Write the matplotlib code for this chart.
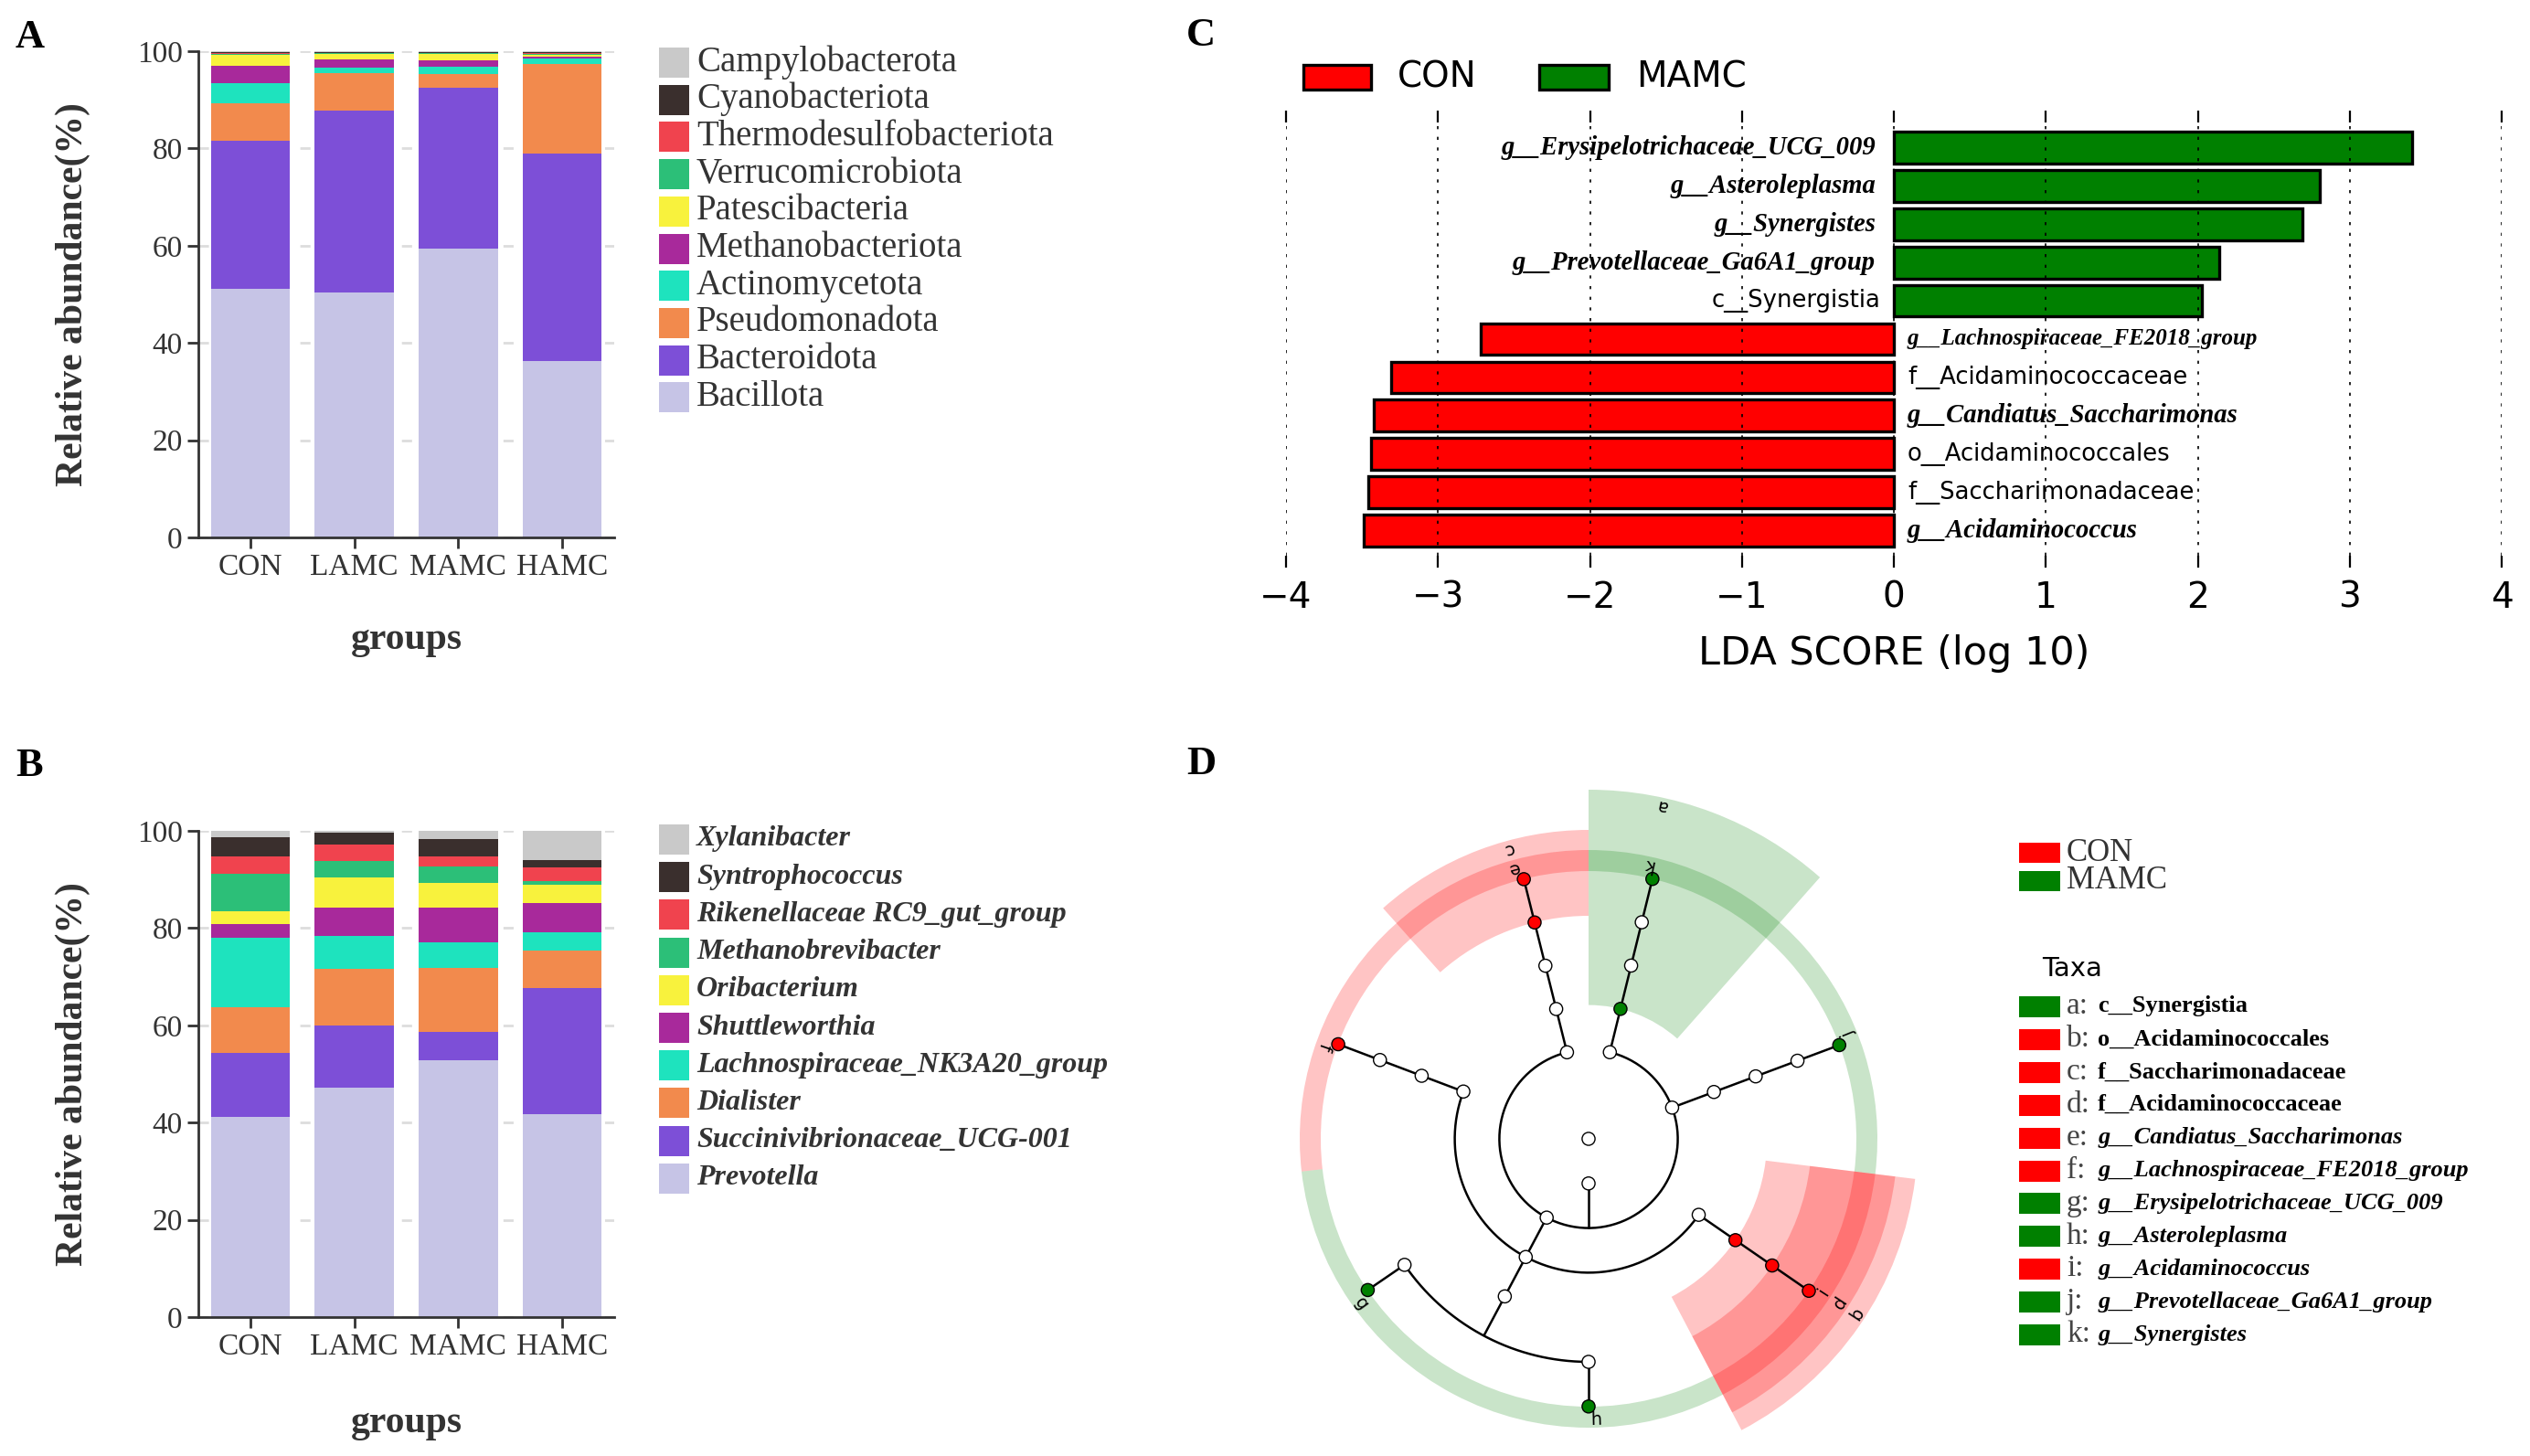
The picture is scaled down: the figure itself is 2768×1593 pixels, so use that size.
import numpy as np
import matplotlib.pyplot as plt
from matplotlib.patches import Rectangle, Wedge

W, H, DPI = 2768, 1593, 200
SERIF = ['Liberation Serif', 'DejaVu Serif']
SANS = ['DejaVu Sans']
INK = '#333333'

groups = ['CON', 'LAMC', 'MAMC', 'HAMC']

# phylum level, listed from the bottom of the stack to the top
phyla = ['Bacillota', 'Bacteroidota', 'Pseudomonadota', 'Actinomycetota',
         'Methanobacteriota', 'Patescibacteria', 'Verrucomicrobiota',
         'Thermodesulfobacteriota', 'Cyanobacteriota', 'Campylobacterota']
phylum_con = [51.2, 30.4, 7.7, 4.2, 3.5, 2.3, 0.2, 0.2, 0.2, 0.1]
phylum_lamc = [50.3, 37.5, 7.6, 1.3, 1.6, 1.2, 0.1, 0.1, 0.2, 0.1]
phylum_mamc = [59.4, 33.0, 2.9, 1.5, 1.4, 1.3, 0.1, 0.1, 0.2, 0.1]
phylum_hamc = [36.3, 42.7, 18.4, 1.1, 0.3, 0.4, 0.2, 0.2, 0.2, 0.2]

# genus level, same order (bottom -> top)
genera = ['Prevotella', 'Succinivibrionaceae_UCG-001', 'Dialister',
          'Lachnospiraceae_NK3A20_group', 'Shuttleworthia', 'Oribacterium',
          'Methanobrevibacter', 'Rikenellaceae RC9_gut_group',
          'Syntrophococcus', 'Xylanibacter']
genus_con = [41.2, 13.1, 9.5, 14.2, 2.9, 2.6, 7.6, 3.6, 3.9, 1.4]
genus_lamc = [47.2, 12.8, 11.6, 6.8, 5.9, 6.1, 3.4, 3.3, 2.6, 0.3]
genus_mamc = [52.8, 5.8, 13.2, 5.2, 7.3, 4.9, 3.4, 2.1, 3.6, 1.7]
genus_hamc = [41.7, 26.0, 7.6, 3.8, 6.0, 3.9, 0.6, 2.8, 1.6, 6.0]

stack_colors = ['#C6C4E6', '#7D4FD7', '#F28A4D', '#1EE3BE', '#A8299B',
                '#F8F23D', '#2CBF78', '#F0434E', '#3A2F2D', '#C9C9C9']

# LEfSe LDA scores (top bar first), negative = enriched in CON
lda_names = ['g__Erysipelotrichaceae_UCG_009', 'g__Asteroleplasma', 'g__Synergistes',
             'g__Prevotellaceae_Ga6A1_group', 'c__Synergistia',
             'g__Lachnospiraceae_FE2018_group', 'f__Acidaminococcaceae',
             'g__Candiatus_Saccharimonas', 'o__Acidaminococcales',
             'f__Saccharimonadaceae', 'g__Acidaminococcus']
lda_scores = [3.41, 2.80, 2.69, 2.14, 2.03, -2.72, -3.31, -3.42, -3.44, -3.46, -3.49]

group_color = {'CON': '#FF0000', 'MAMC': '#008000'}

# cladogram tree: parent index, taxonomic level, angle (deg), enriched group, letter
clade_parent = [-1, 0, 1, 2, 3, 4, 5, 1, 7, 8, 9, 10, 7, 12, 13, 14, 13, 16,
                7, 18, 19, 20, 1, 22, 23, 24, 25, 1, 27, 28, 29, 30]
clade_level = [0, 1, 2, 3, 4, 5, 6, 2, 3, 4, 5, 6, 3, 4, 5, 6, 5, 6,
               3, 4, 5, 6, 2, 3, 4, 5, 6, 2, 3, 4, 5, 6]
clade_angle = [270, 270, 104, 104, 104, 104, 104, 242, 159.3, 159.3, 159.3, 159.3,
               242, 242, 214.4, 214.4, 270, 270, 325.4, 325.4, 325.4, 325.4,
               380.5, 380.5, 380.5, 380.5, 380.5, 436.2, 436.2, 436.2, 436.2, 436.2]
clade_group = ['', '', '', '', '', 'CON', 'CON', '', '', '', '', 'CON',
               '', '', '', 'MAMC', '', 'MAMC', '', 'CON', 'CON', 'CON',
               '', '', '', '', 'MAMC', '', 'MAMC', '', '', 'MAMC']
clade_letter = ['', '', '', '', '', 'c', 'e', '', '', '', '', 'f',
                '', '', '', 'g', '', 'h', '', 'b', 'd', 'i',
                '', '', '', '', 'j', '', 'a', '', '', 'k']
clade_name = {'a': 'c__Synergistia', 'b': 'o__Acidaminococcales',
              'c': 'f__Saccharimonadaceae', 'd': 'f__Acidaminococcaceae',
              'e': 'g__Candiatus_Saccharimonas', 'f': 'g__Lachnospiraceae_FE2018_group',
              'g': 'g__Erysipelotrichaceae_UCG_009', 'h': 'g__Asteroleplasma',
              'i': 'g__Acidaminococcus', 'j': 'g__Prevotellaceae_Ga6A1_group',
              'k': 'g__Synergistes'}
# shaded clades and their angular span
shade_letters = ['a', 'c', 'b', 'd', 'i']
shade_spans = [(48.5, 90.0), (90.0, 131.7), (297.7, 353.0), (297.7, 353.0), (297.7, 353.0)]
ring_spans = [(90.0, 186.5), (186.5, 297.7), (353.0, 450.0)]
ring_groups = ['CON', 'MAMC', 'MAMC']


def px_box(x0, y0, x1, y1):
    return [x0 / W, 1 - y1 / H, (x1 - x0) / W, (y1 - y0) / H]


fig = plt.figure(figsize=(W / DPI, H / DPI), dpi=DPI)


def stacked_panel(box, table):
    ax = fig.add_axes(px_box(*box))
    x = np.arange(len(groups))
    bottom = np.zeros(len(groups))
    for row, col in zip(table, stack_colors):
        ax.bar(x, row, 0.76, bottom=bottom, color=col, lw=0, zorder=2)
        bottom += row
    ax.set_xlim(-0.5, 3.5)
    ax.set_ylim(0, 100)
    ax.set_yticks(range(0, 101, 20))
    ax.set_xticks(x)
    ax.set_xticklabels(groups)
    ax.yaxis.grid(True, color='#DDDDDD', lw=1.0, ls=(0, (4, 6)), zorder=0)
    for s in ['top', 'right']:
        ax.spines[s].set_visible(False)
    for s in ['left', 'bottom']:
        ax.spines[s].set_color(INK)
        ax.spines[s].set_linewidth(1.0)
    ax.tick_params(length=4.2, width=1.0, color=INK, labelcolor=INK, labelsize=12, pad=2)
    for t in ax.get_xticklabels() + ax.get_yticklabels():
        t.set_family(SERIF)
    return ax


ax_a = stacked_panel((217, 56, 672, 588),
                     np.array([phylum_con, phylum_lamc, phylum_mamc, phylum_hamc]).T)
ax_b = stacked_panel((217, 909, 672, 1441),
                     np.array([genus_con, genus_lamc, genus_mamc, genus_hamc]).T)

# ---- panel C: LDA bars
ax_c = fig.add_axes(px_box(1407, 134, 2737, 608))
ypos = np.arange(len(lda_names))[::-1]
bar_cols = [group_color['MAMC'] if v > 0 else group_color['CON'] for v in lda_scores]
ax_c.barh(ypos, lda_scores, height=0.83, color=bar_cols, edgecolor='black', lw=1.2, zorder=1)
ax_c.set_xlim(-4, 4)
ax_c.set_ylim(-0.65, 10.65)
ax_c.set_xticks(range(-4, 5))
ax_c.set_yticks([])
for s in ax_c.spines.values():
    s.set_visible(False)
ax_c.set_axisbelow(False)
ax_c.xaxis.grid(True, color='black', lw=0.6, ls=(0, (2, 5)))
ax_c.tick_params(axis='x', top=True, bottom=True, direction='out', length=4.6,
                 width=0.8, labelsize=14, pad=5)
for t in ax_c.get_xticklabels():
    t.set_family(SANS)
ax_c.set_xlabel('LDA SCORE (log 10)', fontsize=15.5, family=SANS)
ax_c.xaxis.set_label_coords(0.5, (608 - 694) / 474)
for y, name, v in zip(ypos, lda_names, lda_scores):
    genus = name.startswith('g__')
    if v > 0:
        x, ha = (-0.12 if genus else -0.09), 'right'
    else:
        x, ha = 0.09, 'left'
    if genus:
        size = 10.3 if len(name) <= 30 else 9.0
        ax_c.text(x, y, name, ha=ha, va='center', fontsize=size, family=SERIF,
                  fontweight='bold', fontstyle='italic')
    else:
        ax_c.text(x, y, name, ha=ha, va='center', fontsize=9.3, family=SANS)

# ---- panel D: cladogram
ax_d = fig.add_axes(px_box(1318, 846, 2158, 1593))
ax_d.set_xlim(-420, 420)
ax_d.set_ylim(-347, 400)
ax_d.axis('off')
STEP, RING_IN, RING_OUT, EXTRA = 48.8, 293, 316, 22
shade_alpha = {'CON': 0.23, 'MAMC': 0.21}


def outer(level):
    return RING_OUT + (6 - level) * EXTRA


for (t1, t2), g in zip(ring_spans, ring_groups):
    ax_d.add_patch(Wedge((0, 0), RING_OUT, t1, t2, width=RING_OUT - RING_IN,
                         facecolor=group_color[g], alpha=shade_alpha[g], lw=0, zorder=1))
for letter, (t1, t2) in zip(shade_letters, shade_spans):
    i = clade_letter.index(letter)
    lev, g = clade_level[i], clade_group[i]
    r0, r1 = lev * STEP, outer(lev)
    ax_d.add_patch(Wedge((0, 0), r1, t1, t2, width=r1 - r0,
                         facecolor=group_color[g], alpha=shade_alpha[g], lw=0, zorder=1))

for p in range(1, len(clade_parent)):
    kids = [k for k, q in enumerate(clade_parent) if q == p]
    if not kids:
        continue
    r_p = clade_level[p] * STEP
    r_c = (clade_level[p] + 1) * STEP
    a_p = np.radians(clade_angle[p])
    ax_d.plot([r_p * np.cos(a_p), r_c * np.cos(a_p)], [r_p * np.sin(a_p), r_c * np.sin(a_p)],
              color='black', lw=0.9, zorder=3, solid_capstyle='butt')
    angs = [clade_angle[p]] + [clade_angle[k] for k in kids]
    th = np.radians(np.linspace(min(angs), max(angs), 200))
    ax_d.plot(r_c * np.cos(th), r_c * np.sin(th), color='black', lw=0.9, zorder=3)

rr = np.array(clade_level) * STEP
tt = np.radians(clade_angle)
node_fc = [group_color.get(g, 'white') for g in clade_group]
ax_d.scatter(rr * np.cos(tt), rr * np.sin(tt), s=26, c=node_fc, edgecolors='black',
             linewidths=0.5, zorder=4)
for i, letter in enumerate(clade_letter):
    if letter:
        rl = outer(clade_level[i]) - 9
        a = clade_angle[i] + 1.5
        ax_d.text(rl * np.cos(np.radians(a)), rl * np.sin(np.radians(a)), letter,
                  fontsize=7, family=SANS, ha='center', va='center',
                  rotation=(a + 90) % 360, rotation_mode='anchor', zorder=5)

# ---- overlay in pixel coordinates for legends and titles
ov = fig.add_axes([0, 0, 1, 1])
ov.set_xlim(0, W)
ov.set_ylim(H, 0)
ov.axis('off')

for lab, (x, y) in zip('ABCD', [(17, 52), (17, 849), (1298, 50), (1298, 847)]):
    ov.text(x, y, lab, fontsize=16, fontweight='bold', family=SERIF, ha='left', va='baseline')

for yc in [322, 1175]:
    ov.text(80, yc, 'Relative abundance(%)', rotation=90, fontsize=15, fontweight='bold',
            family=SERIF, color=INK, ha='center', va='center')
for yc in [700, 1557]:
    ov.text(445, yc, 'groups', fontsize=15, fontweight='bold', family=SERIF, color=INK,
            ha='center', va='center')


def stack_legend(labels, y0, step, **kw):
    for i, (lab, col) in enumerate(zip(labels[::-1], stack_colors[::-1])):
        y = y0 + i * step
        ov.add_patch(Rectangle((721, y - 16), 33, 33, facecolor=col, lw=0))
        ov.text(762, y, lab, va='center', ha='left', color=INK, **kw)


stack_legend(phyla, 68, 40.7, fontsize=14, family=SERIF)
stack_legend(genera, 918, 41.2, fontsize=11.5, family=SERIF, fontweight='bold',
             fontstyle='italic')

# LEfSe legend
for (x0, x1, tx), g in zip([(1426, 1500, 1529), (1684, 1760, 1790)], ['CON', 'MAMC']):
    ov.add_patch(Rectangle((x0, 71), x1 - x0, 27, facecolor=group_color[g],
                           edgecolor='black', lw=1.2))
    ov.text(tx, 85, g, fontsize=14, family=SANS, va='center', ha='left')

# cladogram legend
for i, g in enumerate(['CON', 'MAMC']):
    y = 933 + i * 31
    ov.add_patch(Rectangle((2209, y - 11), 45, 22, facecolor=group_color[g], lw=0))
    ov.text(2261, y, g, fontsize=12.5, family=SERIF, color=INK, va='center', ha='left')
ov.text(2234, 1060, 'Taxa', fontsize=10.5, family=SANS, va='center', ha='left')
for j, letter in enumerate(sorted(clade_name)):
    y = 1101 + j * 35.9
    g = clade_group[clade_letter.index(letter)]
    ov.add_patch(Rectangle((2209, y - 11), 45, 23, facecolor=group_color[g], lw=0))
    ov.text(2261, y, letter + ':', fontsize=12, family=SERIF, color='#444444',
            va='center', ha='left')
    name = clade_name[letter]
    ov.text(2295, y, name, fontsize=9.5, family=SERIF, fontweight='bold',
            fontstyle='italic' if name.startswith('g__') else 'normal',
            va='center', ha='left')

fig.savefig('out.png', dpi=DPI)
